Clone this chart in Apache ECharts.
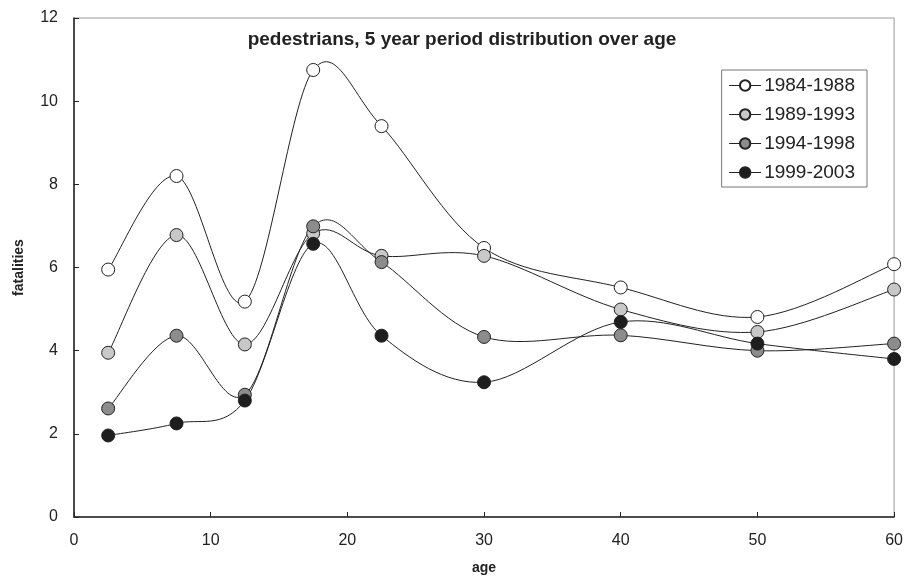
<!DOCTYPE html>
<html>
<head>
<meta charset="utf-8">
<script src="https://cdn.jsdelivr.net/npm/echarts@6/dist/echarts.min.js"></script>
<style>
  html, body { margin: 0; padding: 0; background: #fff; }
  #chart { width: 906px; height: 584px; }
</style>
</head>
<body>
<div id="chart"></div>
<script>
// age group midpoints
var ages = [2.5, 7.5, 12.5, 17.5, 22.5, 30, 40, 50, 60];

var p1984 = [5.95, 8.2, 5.18, 10.75, 9.4, 6.47, 5.52, 4.81, 6.08];
var p1989 = [3.95, 6.78, 4.15, 6.82, 6.28, 6.28, 4.99, 4.45, 5.47];
var p1994 = [2.61, 4.36, 2.94, 6.99, 6.13, 4.33, 4.37, 4.0, 4.17];
var p1999 = [1.96, 2.25, 2.8, 6.57, 4.36, 3.24, 4.69, 4.17, 3.8];

var periods = ["1984-1988", "1989-1993", "1994-1998", "1999-2003"];
var fills = ["#ffffff", "#c8c8c8", "#8c8c8c", "#1e1e1e"];

var font = "Liberation Sans, Arial, sans-serif";

function pairs(vals) {
  return ages.map(function (a, i) { return [a, vals[i]]; });
}

// smooth curve like the spreadsheet one (cardinal spline, may overshoot)
function curveItem(data) {
  return function (params, api) {
    var i = params.dataIndex;
    var n = data.length;
    if (i >= n - 1) return null;
    var P = data.map(function (d) { return api.coord(d); });
    function tan(k) {
      var a = P[Math.max(k - 1, 0)], b = P[Math.min(k + 1, n - 1)];
      return [(b[0] - a[0]) / 6, (b[1] - a[1]) / 6];
    }
    var t0 = tan(i), t1 = tan(i + 1);
    return {
      type: "bezierCurve",
      shape: {
        x1: P[i][0], y1: P[i][1],
        x2: P[i + 1][0], y2: P[i + 1][1],
        cpx1: P[i][0] + t0[0], cpy1: P[i][1] + t0[1],
        cpx2: P[i + 1][0] - t1[0], cpy2: P[i + 1][1] - t1[1]
      },
      style: { stroke: "#222", lineWidth: 1, fill: "none" }
    };
  };
}

var series = [];
[p1984, p1989, p1994, p1999].forEach(function (vals, i) {
  var data = pairs(vals);
  series.push({
    name: periods[i] + " curve",
    type: "custom",
    data: data,
    encode: { x: 0, y: 1 },
    renderItem: curveItem(data),
    z: 1
  });
  series.push({
    name: periods[i],
    type: "line",
    data: data,
    symbol: "circle",
    symbolSize: 13,
    z: 3 + i,
    lineStyle: { color: "#222", width: 1, opacity: 0 },
    itemStyle: { color: fills[i], borderColor: "#222", borderWidth: 1 }
  });
});

var chart = echarts.init(document.getElementById("chart"));
chart.setOption({
  animation: false,
  backgroundColor: "#fff",
  title: {
    text: "pedestrians, 5 year period distribution over age",
    left: 457,
    textAlign: "center",
    top: 25,
    textStyle: { fontFamily: font, fontSize: 19, fontWeight: "bold", color: "#222" }
  },
  legend: {
    orient: "vertical",
    right: 39,
    top: 70,
    data: periods,
    itemWidth: 32,
    itemHeight: 13,
    itemGap: 10,
    padding: [6, 12, 5, 7],
    borderColor: "#777",
    borderWidth: 1,
    lineStyle: { color: "#222", width: 1, opacity: 1 },
    textStyle: { fontFamily: font, fontSize: 19, color: "#222", padding: [0, 0, 0, -2] }
  },
  grid: {
    left: 74, right: 11, top: 18, bottom: 67,
    show: true, borderColor: "#999", borderWidth: 1
  },
  xAxis: {
    type: "value",
    min: 0, max: 60, interval: 10,
    name: "age",
    nameLocation: "middle",
    nameGap: 44,
    nameTextStyle: { fontFamily: font, fontSize: 14, fontWeight: "bold", color: "#222" },
    axisLine: { lineStyle: { color: "#222", width: 1.5 } },
    axisTick: { inside: true, length: 5, lineStyle: { color: "#222" } },
    axisLabel: { fontFamily: font, fontSize: 16, color: "#222", margin: 16 },
    splitLine: { show: false }
  },
  yAxis: {
    type: "value",
    min: 0, max: 12, interval: 2,
    name: "fatalities",
    nameLocation: "middle",
    nameGap: 48,
    nameTextStyle: { fontFamily: font, fontSize: 14, fontWeight: "bold", color: "#222" },
    axisLine: { show: true, lineStyle: { color: "#222", width: 1.5 } },
    axisTick: { show: true, inside: true, length: 5, lineStyle: { color: "#222" } },
    axisLabel: { fontFamily: font, fontSize: 16, color: "#222", margin: 16 },
    splitLine: { show: false }
  },
  series: series
});
</script>
</body>
</html>
